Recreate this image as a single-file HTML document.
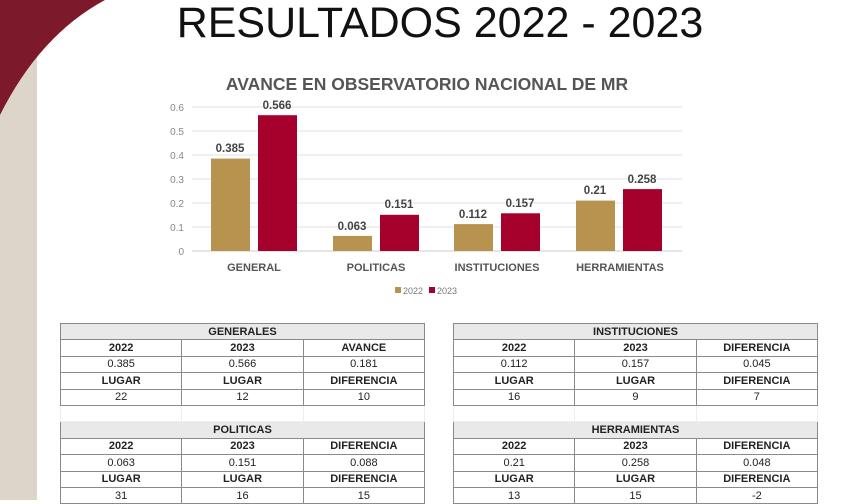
<!DOCTYPE html><html><head><style>
body{margin:0;width:850px;height:500px;overflow:hidden;background:#fff;font-family:"Liberation Sans",sans-serif;position:relative}
.t{position:absolute;left:60px;width:365px;border-collapse:collapse;font-size:11px;color:#222}
.t td{border:1px solid #8a8a8a;text-align:center;height:15.4px;padding:0;width:33.3%;line-height:14px}
.t .h td{background:#e9e9e9;font-weight:bold}
.t .b td{font-weight:bold}
.t .g td{border-color:#eee;border-left:1px solid #eee}
</style></head><body>
<div style="position:absolute;left:0;top:0;width:37px;height:500px;background:#ddd5c9"></div>
<svg style="position:absolute;left:0;top:0" width="120" height="130"><path d="M0 0 L105 0 Q40 35 0 115 Z" fill="#7c1a2c"/></svg>
<div style="position:absolute;left:0;width:880px;top:-1px;text-align:center;font-size:43px;color:#111">RESULTADOS 2022 - 2023</div>
<div style="position:absolute;left:0;width:854px;top:74px;text-align:center;font-size:17.5px;font-weight:bold;color:#555">AVANCE EN OBSERVATORIO NACIONAL DE MR</div>
<svg style="position:absolute;left:0;top:0" width="850" height="310" font-family="Liberation Sans" >
<g stroke="#e2e2e2" stroke-width="1">
<line x1="192" x2="682" y1="107" y2="107"/><line x1="192" x2="682" y1="131" y2="131"/><line x1="192" x2="682" y1="155" y2="155"/><line x1="192" x2="682" y1="179" y2="179"/><line x1="192" x2="682" y1="203" y2="203"/><line x1="192" x2="682" y1="227" y2="227"/><line x1="192" x2="682" y1="251" y2="251" stroke="#ccc"/></g>
<g font-size="10" fill="#888" text-anchor="end"><text x="184" y="111">0.6</text><text x="184" y="135">0.5</text><text x="184" y="159">0.4</text><text x="184" y="183">0.3</text><text x="184" y="207">0.2</text><text x="184" y="231">0.1</text><text x="184" y="255">0</text></g>
<g fill="#b8924f"><rect x="211" y="158.6" width="39" height="92.4"/><rect x="333" y="235.9" width="39" height="15.1"/><rect x="454" y="224.1" width="39" height="26.9"/><rect x="576" y="200.6" width="39" height="50.4"/></g>
<g fill="#a6002c"><rect x="258" y="115.2" width="39" height="135.8"/><rect x="380" y="214.8" width="39" height="36.2"/><rect x="501" y="213.3" width="39" height="37.7"/><rect x="623" y="189.1" width="39" height="61.9"/></g>
<g font-size="11.5" font-weight="bold" fill="#444" text-anchor="middle"><text x="230" y="152">0.385</text><text x="277" y="109">0.566</text><text x="352" y="230">0.063</text><text x="399" y="208">0.151</text><text x="473" y="218">0.112</text><text x="520" y="207">0.157</text><text x="595" y="194">0.21</text><text x="642" y="183">0.258</text></g>
<g font-size="11" font-weight="bold" fill="#555" text-anchor="middle"><text x="254" y="271">GENERAL</text><text x="376" y="271">POLITICAS</text><text x="497" y="271">INSTITUCIONES</text><text x="620" y="271">HERRAMIENTAS</text></g>
<rect x="395" y="287" width="6" height="6" fill="#b8924f"/><text x="403" y="294" font-size="9" fill="#777">2022</text>
<rect x="429" y="287" width="6" height="6" fill="#a6002c"/><text x="437" y="294" font-size="9" fill="#777">2023</text>
</svg>
<table class="t" style="top:323px"><tr class="h"><td colspan="3">GENERALES</td></tr><tr class="b"><td>2022</td><td>2023</td><td>AVANCE</td></tr><tr><td>0.385</td><td>0.566</td><td>0.181</td></tr><tr class="b"><td>LUGAR</td><td>LUGAR</td><td>DIFERENCIA</td></tr><tr><td>22</td><td>12</td><td>10</td></tr><tr class="g"><td></td><td></td><td></td></tr><tr class="h"><td colspan="3">POLITICAS</td></tr><tr class="b"><td>2022</td><td>2023</td><td>DIFERENCIA</td></tr><tr><td>0.063</td><td>0.151</td><td>0.088</td></tr><tr class="b"><td>LUGAR</td><td>LUGAR</td><td>DIFERENCIA</td></tr><tr><td>31</td><td>16</td><td>15</td></tr></table>
<table class="t" style="top:323px;left:453px"><tr class="h"><td colspan="3">INSTITUCIONES</td></tr><tr class="b"><td>2022</td><td>2023</td><td>DIFERENCIA</td></tr><tr><td>0.112</td><td>0.157</td><td>0.045</td></tr><tr class="b"><td>LUGAR</td><td>LUGAR</td><td>DIFERENCIA</td></tr><tr><td>16</td><td>9</td><td>7</td></tr><tr class="g"><td></td><td></td><td></td></tr><tr class="h"><td colspan="3">HERRAMIENTAS</td></tr><tr class="b"><td>2022</td><td>2023</td><td>DIFERENCIA</td></tr><tr><td>0.21</td><td>0.258</td><td>0.048</td></tr><tr class="b"><td>LUGAR</td><td>LUGAR</td><td>DIFERENCIA</td></tr><tr><td>13</td><td>15</td><td>-2</td></tr></table>
</body></html>
